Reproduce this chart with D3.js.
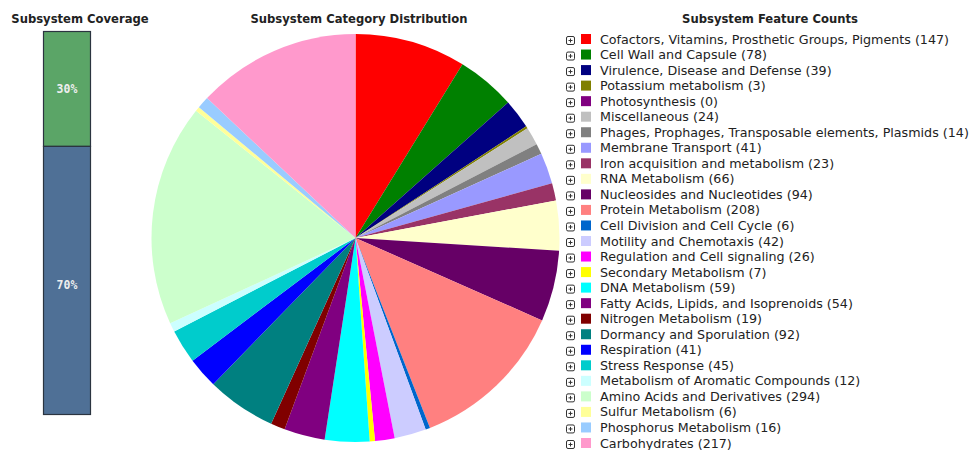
<!DOCTYPE html>
<html><head><meta charset="utf-8">
<script src="https://cdn.jsdelivr.net/npm/d3@7"></script>
<style>body{margin:0;background:#fff}</style>
</head><body><svg id="c" width="972" height="450"></svg>
<script>
const categories = ["Cofactors, Vitamins, Prosthetic Groups, Pigments","Cell Wall and Capsule","Virulence, Disease and Defense","Potassium metabolism","Photosynthesis","Miscellaneous","Phages, Prophages, Transposable elements, Plasmids","Membrane Transport","Iron acquisition and metabolism","RNA Metabolism","Nucleosides and Nucleotides","Protein Metabolism","Cell Division and Cell Cycle","Motility and Chemotaxis","Regulation and Cell signaling","Secondary Metabolism","DNA Metabolism","Fatty Acids, Lipids, and Isoprenoids","Nitrogen Metabolism","Dormancy and Sporulation","Respiration","Stress Response","Metabolism of Aromatic Compounds","Amino Acids and Derivatives","Sulfur Metabolism","Phosphorus Metabolism","Carbohydrates"];
const counts = [147,78,39,3,0,24,14,41,23,66,94,208,6,42,26,7,59,54,19,92,41,45,12,294,6,16,217];
const colors = ["#FF0000","#008000","#000080","#808000","#800080","#C0C0C0","#808080","#9999FF","#993366","#FFFFCC","#660066","#FF8080","#0066CC","#CCCCFF","#FF00FF","#FFFF00","#00FFFF","#800080","#800000","#008080","#0000FF","#00CCCC","#CCFFFF","#CCFFCC","#FFFF99","#99CCFF","#FF99CC"];
const coverageLabels = ["30%","70%"];
const coverageValues = [30,70];
const coverageColors = ["#5BA567","#4F7096"];

const svg = d3.select("#c");
const font = "DejaVu Sans";

// Coverage bar
svg.append("text").attr("x",80).attr("y",23).attr("text-anchor","middle")
  .attr("font-family",font).attr("font-weight","bold").attr("font-size",11.6).attr("fill","#222").text("Subsystem Coverage");
const y = d3.scaleLinear().domain([0,100]).range([31,414]);
let acc = 0;
const cov = coverageValues.map((v,i)=>{const o={v,y0:acc,y1:acc+v,label:coverageLabels[i],color:coverageColors[i]};acc+=v;return o;});
const bg = svg.append("g");
bg.selectAll("rect").data(cov).join("rect")
  .attr("x",43.5).attr("width",47).attr("y",d=>y(d.y0)+0.5).attr("height",d=>y(d.y1)-y(d.y0))
  .attr("fill",d=>d.color).attr("stroke","#2b3440").attr("stroke-width",1.2);
bg.selectAll("text").data(cov).join("text")
  .attr("x",67).attr("y",(d,i)=> i===0 ? y(d.y0)+62 : y(d.y0)+143)
  .attr("text-anchor","middle").attr("font-family","DejaVu Sans Mono").attr("font-weight","bold")
  .attr("font-size",11.5).attr("fill","#eee").text(d=>d.label);

// Pie
svg.append("text").attr("x",359).attr("y",23).attr("text-anchor","middle")
  .attr("font-family",font).attr("font-weight","bold").attr("font-size",11.6).attr("fill","#222").text("Subsystem Category Distribution");
const pie = d3.pie().sort(null).value(d=>d)(counts);
const arc = d3.arc().innerRadius(0).outerRadius(204);
svg.append("g").attr("transform","translate(355.5,238)")
  .selectAll("path").data(pie).join("path")
  .attr("d",arc).attr("fill",(d,i)=>colors[i]);

// Legend
svg.append("text").attr("x",770).attr("y",23).attr("text-anchor","middle")
  .attr("font-family",font).attr("font-weight","bold").attr("font-size",11.6).attr("fill","#222").text("Subsystem Feature Counts");
const ly = d3.scalePoint().domain(d3.range(categories.length)).range([39,443]);
const lg = svg.append("g").selectAll("g").data(categories).join("g")
  .attr("transform",(d,i)=>`translate(0,${ly(i)})`);
lg.append("rect").attr("x",566.5).attr("y",-2.5).attr("width",8).attr("height",8).attr("rx",1.5)
  .attr("fill","#fff").attr("stroke","#333").attr("stroke-width",1);
lg.append("path").attr("d","M568.5,1.5h4M570.5,-0.5v4").attr("stroke","#333").attr("stroke-width",1);
lg.append("rect").attr("x",581).attr("y",-5).attr("width",10).attr("height",10).attr("fill",(d,i)=>colors[i]);
lg.append("text").attr("x",600).attr("y",4.5)
  .attr("font-family",font).attr("font-size",12.7).attr("fill","#222")
  .text((d,i)=>`${d} (${counts[i]})`);
</script></body></html>
